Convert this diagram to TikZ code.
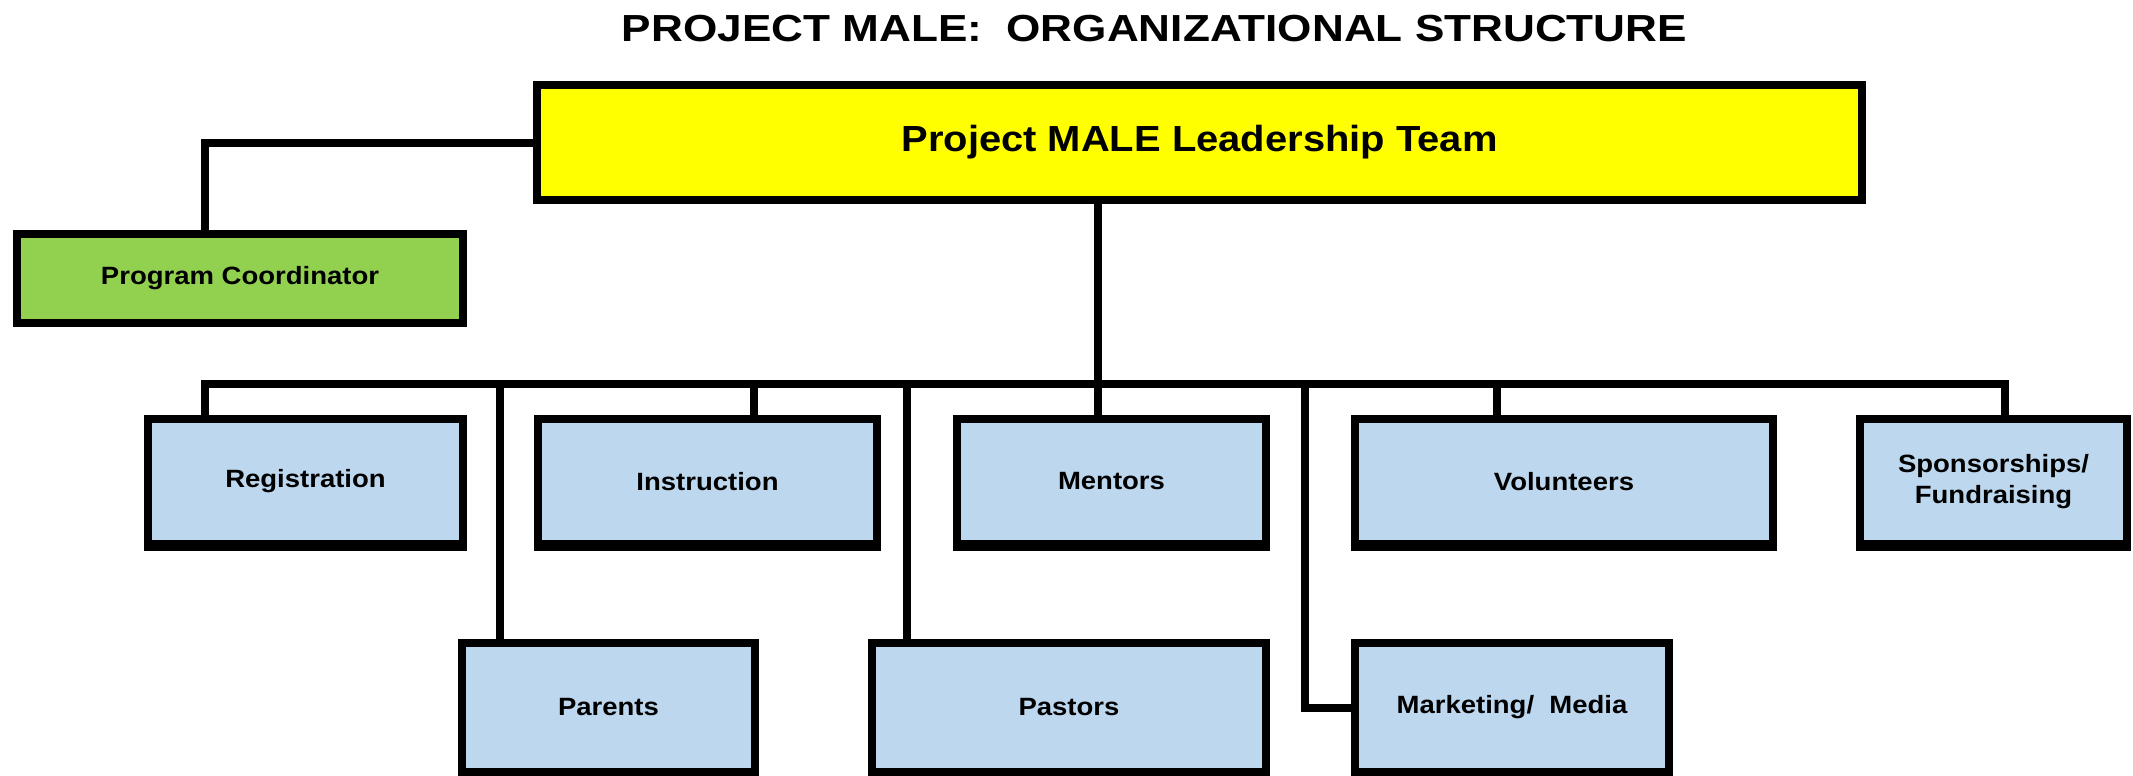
\documentclass[tikz,border=0pt]{standalone}
\usepackage{fontspec}
\setmainfont{Liberation Sans}[FakeStretch=1.1]
\newfontfamily\titlefont{Liberation Sans}[FakeStretch=1.17]
\definecolor{leadyellow}{HTML}{FFFF00}
\definecolor{coordgreen}{HTML}{92D050}
\definecolor{boxblue}{HTML}{BDD7EE}
\begin{document}
\begin{tikzpicture}[x=1pt,y=-1pt,
  box/.style={draw=black, line width=8pt, inner sep=0pt, align=center,
    font=\bfseries\fontsize{25}{31}\selectfont},
  bluebox/.style={box, fill=boxblue, minimum height=125pt},
  conn/.style={draw=black, line width=8pt, line join=miter}]
\useasboundingbox (0,0) rectangle (2133,776);
% title
\node[anchor=base, inner sep=0pt, font=\titlefont\bfseries\fontsize{37.7}{40}\selectfont] (title) at (1154.5,42) {PROJECT MALE:\ \ ORGANIZATIONAL STRUCTURE};
% leadership and coordinator
\node[box, fill=leadyellow, minimum width=1325pt, minimum height=115pt, font=\bfseries\fontsize{36.3}{40}\selectfont] (lead) at (1199.5,142.5) {Project MALE Leadership Team};
\node[box, fill=coordgreen, minimum width=446pt, minimum height=89pt] (coord) at (240,278.5) {Program Coordinator};
% top row
\node[bluebox, minimum width=315pt] (reg) at (305.5,481.5) {Registration};
\node[bluebox, minimum width=339pt] (instr) at (707.5,481.5) {Instruction};
\node[bluebox, minimum width=309pt] (mentors) at (1111.5,481.5) {Mentors};
\node[bluebox, minimum width=418pt] (vol) at (1564,481.5) {Volunteers};
\node[bluebox, minimum width=267pt] (spons) at (1993.5,481.5) {Sponsorships/\\Fundraising};
% thicker bottom edge of the top-row boxes
\foreach \n in {reg,instr,mentors,vol,spons}
  \fill[black] ([yshift=1pt]\n.south west) rectangle ([yshift=-3pt]\n.south east);
% bottom row
\node[bluebox, minimum width=293pt, minimum height=129pt] (parents) at (608.5,707.5) {Parents};
\node[bluebox, minimum width=394pt, minimum height=129pt] (pastors) at (1069,707.5) {Pastors};
\node[bluebox, minimum width=314pt, minimum height=129pt] (mark) at (1512,707.5) {Marketing/\ \ Media};
% bus coordinates
\coordinate (busL) at (205,384);
\coordinate (busR) at (2005,384);
\coordinate (busM) at (1098,384);
\coordinate (bPar) at (500,384);
\coordinate (bIns) at (754,384);
\coordinate (bPas) at (907,384);
\coordinate (bMar) at (1305,384);
\coordinate (bVol) at (1497,384);
% connectors
\draw[conn] (lead.west) -| (coord.north -| busL);
\draw[conn] (busL |- reg.north) -- (busL) -- (busR) -- (busR |- spons.north);
\draw[conn] (lead.south -| busM) -- (busM |- mentors.north);
\draw[conn] (bPar) -- (bPar |- parents.north);
\draw[conn] (bIns) -- (bIns |- instr.north);
\draw[conn] (bPas) -- (bPas |- pastors.north);
\draw[conn] (bMar) |- (mark.west);
\draw[conn] (bVol) -- (bVol |- vol.north);
\end{tikzpicture}
\end{document}
